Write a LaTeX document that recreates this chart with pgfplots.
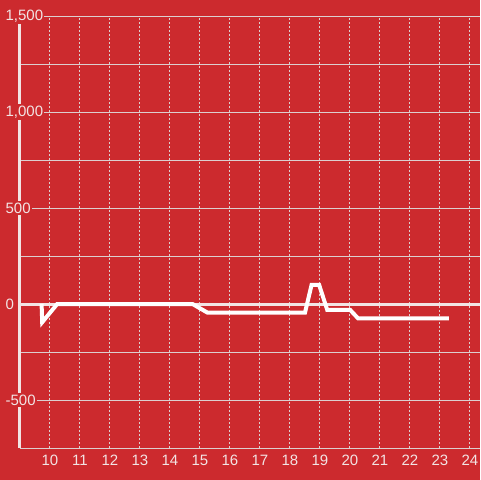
\documentclass[border=0pt]{standalone}
\usepackage{pgfplots}
\pgfplotsset{compat=1.18}
\usepackage{fontspec}
\setmainfont{Liberation Sans}
\definecolor{bg}{HTML}{CC2A2E}
\definecolor{fg}{HTML}{F2E4E4}
\definecolor{gridc}{HTML}{DCCFCF}
\begin{document}
\begin{tikzpicture}[x=1pt,y=1pt]
\fill[bg] (0,0) rectangle (360,360);
\useasboundingbox (0,0) rectangle (360,360);
\begin{axis}[at={(15pt,24pt)}, anchor=south west, scale only axis,
  width=345pt, height=324pt,
  xmin=9, xmax=24.3333, ymin=-750, ymax=1500,
  axis x line*=bottom, axis y line*=left,
  axis line style={-},
  x axis line style={gridc, line width=0.75pt},
  y axis line style={fg, line width=2.25pt},
  /pgf/number format/assume math mode=true,
  xtick={10,...,24},
  ytick={-500,0,500,1000,1500},
  yticklabels={-500,0,500,{1,000},{1,500}},
  minor ytick={-750,-250,250,750,1250},
  ymajorgrids, yminorgrids,
  major grid style={gridc, line width=0.75pt},
  minor grid style={gridc, line width=0.75pt},
  tick style={draw=none},
  font=\fontsize{11.25}{13}\selectfont,
  xticklabel style={text=fg, yshift=-2pt},
  yticklabel style={anchor=west, xshift=-12pt, fill=bg, inner sep=1pt, text=fg},
  clip=false,
]
\pgfplotsinvokeforeach{10,...,24}{
  \draw[gridc, line width=0.75pt, dash pattern=on 1.5pt off 1.5pt] (axis cs:#1,-750) -- (axis cs:#1,1500);
}
\draw[fg, line width=2.25pt] (axis cs:9,0) -- (axis cs:24.3333,0);
\addplot[white, line width=3pt, line join=miter] coordinates {
(9.72,0) (9.74,-95) (10.24,0) (14.75,0) (15.25,-45) (18.5,-45) (18.72,100) (18.97,100) (19.24,-30) (20.0,-30) (20.27,-75) (23.3,-75)
};
\end{axis}
\end{tikzpicture}
\end{document}
